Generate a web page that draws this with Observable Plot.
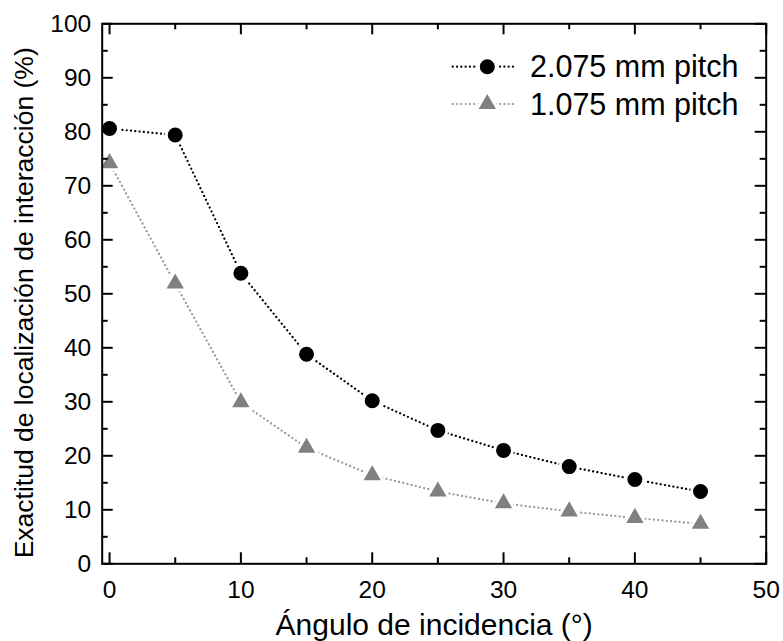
<!DOCTYPE html>
<html><head><meta charset="utf-8">
<script src="https://cdn.jsdelivr.net/npm/d3@7"></script>
<script src="https://cdn.jsdelivr.net/npm/@observablehq/plot@0.6"></script>
<style>
body{margin:0;background:#fff}
#chart svg g[aria-label="x-axis tick label"], #chart svg g[aria-label="y-axis tick label"] { font-size: 24.5px; }
</style>
</head><body><div id="chart"></div>
<script>
const angles = [0, 5, 10, 15, 20, 25, 30, 35, 40, 45];
const pitch2075 = [80.6, 79.4, 53.8, 38.8, 30.2, 24.7, 21.0, 18.0, 15.6, 13.4];
const pitch1075 = [74.2, 51.9, 29.9, 21.5, 16.4, 13.4, 11.2, 9.7, 8.5, 7.4];
const seriesNames = ["2.075 mm pitch", "1.075 mm pitch"];
const xMajorTicks = [0, 10, 20, 30, 40, 50];
const xMinorTicks = [5, 15, 25, 35, 45];
const yMajorTicks = [0, 10, 20, 30, 40, 50, 60, 70, 80, 90, 100];
const yMinorTicks = [5, 15, 25, 35, 45, 55, 65, 75, 85, 95];
const xLabel = "Ángulo de incidencia (°)";
const yLabel = "Exactitud de localización de interacción (%)";

const W = 783, Hh = 641;
const mL = 101.7, mR = 17.3, mT = 23.3, mB = 77.7;
const PW = W - mL - mR, PH = Hh - mT - mB;
const font = "'Liberation Sans', Arial, Helvetica, sans-serif";
const lineColors = ["#000000", "#999999"];
const markColors = ["#000000", "#808080"];
const symbols = ["circle", "triangle"];

const s1 = angles.map((a, i) => ({angle: a, value: pitch2075[i]}));
const s2 = angles.map((a, i) => ({angle: a, value: pitch1075[i]}));
const dotted = {strokeWidth: 2.2, strokeDasharray: "0.1 4.2", strokeLinecap: "round"};
const majT = 11, minT = 6;

const chart = Plot.plot({
  width: W, height: Hh,
  marginLeft: mL, marginRight: mR, marginTop: mT, marginBottom: mB,
  style: {fontFamily: font, fontSize: "24.5px", color: "#000", background: "#fff"},
  x: {domain: [-0.56, 50]},
  y: {domain: [0, 100]},
  marks: [
    Plot.axisX({ticks: xMajorTicks, tickSize: 0, tickPadding: 17, label: null, fontSize: 24.5}),
    Plot.axisY({ticks: yMajorTicks, tickSize: 0, tickPadding: 11, label: null, fontSize: 24.5}),
    Plot.line(s2, {x: "angle", y: "value", stroke: lineColors[1], ...dotted}),
    Plot.line(s1, {x: "angle", y: "value", stroke: lineColors[0], ...dotted}),
    Plot.dot(s2, {x: "angle", y: "value", symbol: symbols[1], r: 8.4, fill: markColors[1], stroke: "#fff", strokeWidth: 3}),
    Plot.dot(s1, {x: "angle", y: "value", symbol: symbols[0], r: 9, fill: markColors[0], stroke: "#fff", strokeWidth: 3}),
    // inward ticks, all four sides
    Plot.ruleX(xMajorTicks, {x: d => d, insetTop: PH - majT, strokeWidth: 2}),
    Plot.ruleX(xMinorTicks, {x: d => d, insetTop: PH - minT, strokeWidth: 2}),
    Plot.ruleX(xMajorTicks, {x: d => d, insetBottom: PH - majT, strokeWidth: 2}),
    Plot.ruleX(xMinorTicks, {x: d => d, insetBottom: PH - minT, strokeWidth: 2}),
    Plot.ruleY(yMajorTicks, {y: d => d, insetRight: PW - majT, strokeWidth: 2}),
    Plot.ruleY(yMinorTicks, {y: d => d, insetRight: PW - minT, strokeWidth: 2}),
    Plot.ruleY(yMajorTicks, {y: d => d, insetLeft: PW - majT, strokeWidth: 2}),
    Plot.ruleY(yMinorTicks, {y: d => d, insetLeft: PW - minT, strokeWidth: 2}),
    Plot.frame({stroke: "#000", strokeWidth: 2}),
    Plot.text([xLabel], {text: d => d, frameAnchor: "bottom", textAnchor: "middle", dy: 62, fontSize: 30, lineAnchor: "middle", fill: "#000"}),
    Plot.text([yLabel], {text: d => d, frameAnchor: "left", textAnchor: "middle", rotate: -90, dx: -77.7, dy: 9, fontSize: 26.5, lineAnchor: "middle", fill: "#000"})
  ]
});

// Legend (top-right inside frame)
const svg = d3.select(chart);
const leg = svg.append("g").attr("font-family", font).attr("font-size", 30.5).attr("text-anchor", "start");
const legX = mL + PW - 278.4, legY0 = mT + 43.4, legDY = 37.3;
seriesNames.forEach((name, i) => {
  const y = legY0 + i * legDY;
  leg.append("line").attr("x1", legX - 34.6).attr("x2", legX + 28.7).attr("y1", y).attr("y2", y)
    .attr("stroke", lineColors[i]).attr("stroke-width", 2.2).attr("stroke-dasharray", "0.1 4.2").attr("stroke-linecap", "round");
  const sym = i === 0 ? d3.symbol(d3.symbolCircle, Math.PI * 9 * 9) : d3.symbol(d3.symbolTriangle, Math.PI * 8.4 * 8.4);
  leg.append("path").attr("d", sym()).attr("transform", `translate(${legX},${y})`)
    .attr("fill", markColors[i]).attr("stroke", "#fff").attr("stroke-width", 3);
  leg.append("text").attr("x", legX + 42.7).attr("y", y).attr("dy", "0.35em").attr("fill", "#000")
    .attr("text-anchor", "start").text(name);
});

document.getElementById("chart").appendChild(chart);
</script>
</body></html>
